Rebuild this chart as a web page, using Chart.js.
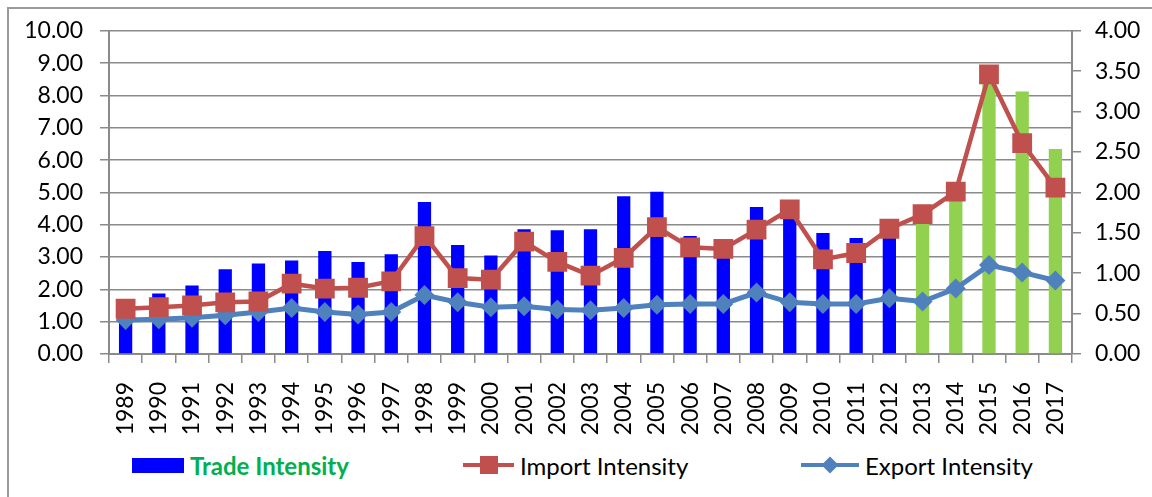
<!DOCTYPE html>
<html>
<head>
<meta charset="utf-8">
<script src="https://cdn.jsdelivr.net/npm/chart.js@4/dist/chart.umd.min.js"></script>
<style>
  body { margin: 0; background: #fff; font-family: Lato, sans-serif; }
  #wrap { position: relative; width: 1152px; height: 497px; overflow: hidden; }
  #frame { position: absolute; left: 7px; top: 7px; width: 1200px; height: 600px;
           border-left: 2px solid #9a9a9a; border-top: 2px solid #9a9a9a; }
  #chart { position: absolute; left: 0; top: 0; }
  .lg { position: absolute; top: 451px; height: 28px; display: flex; align-items: center;
        font-size: 24px; color: #000; white-space: nowrap; }
  .sw { position: relative; margin-right: 6px; }
</style>
</head>
<body>
<div id="wrap">
  <div id="frame"></div>
  <canvas id="chart" width="1152" height="440"></canvas>
  <div class="lg" style="left:132px">
    <span class="sw" style="width:52px;height:15px;background:#0000ff"></span>
    <span style="color:#00b050;font-weight:bold">Trade Intensity</span>
  </div>
  <div class="lg" style="left:463px">
    <span class="sw" style="width:51px;height:4px;background:#c0504d">
      <span style="position:absolute;left:17px;top:-7px;width:18px;height:18px;background:#c0504d"></span>
    </span>
    <span>Import Intensity</span>
  </div>
  <div class="lg" style="left:801px">
    <span class="sw" style="width:58px;height:4px;background:#4f81bd">
      <span style="position:absolute;left:23px;top:-4px;width:12px;height:12px;background:#4f81bd;transform:rotate(45deg)"></span>
    </span>
    <span>Export Intensity</span>
  </div>
</div>
<script>
// Données
const years = ['1989','1990','1991','1992','1993','1994','1995','1996','1997','1998',
  '1999','2000','2001','2002','2003','2004','2005','2006','2007','2008',
  '2009','2010','2011','2012','2013','2014','2015','2016','2017'];

// Trade intensity (axe gauche)
const tradeIntensity = [1.40, 1.87, 2.12, 2.62, 2.80, 2.89, 3.19, 2.85, 3.09, 4.70,
  3.37, 3.05, 3.86, 3.83, 3.86, 4.88, 5.02, 3.65, 3.30, 4.55,
  4.30, 3.74, 3.59, 3.75, 4.25, 4.90, 8.40, 8.12, 6.34];

// Import / Export intensity (axe droit)
const importIntensity = [0.56, 0.58, 0.60, 0.64, 0.65, 0.87, 0.81, 0.82, 0.90, 1.46,
  0.94, 0.92, 1.39, 1.14, 0.97, 1.19, 1.57, 1.32, 1.30, 1.54,
  1.79, 1.17, 1.25, 1.55, 1.73, 2.01, 3.46, 2.61, 2.06];
const exportIntensity = [0.42, 0.43, 0.45, 0.48, 0.52, 0.57, 0.52, 0.49, 0.52, 0.73,
  0.64, 0.58, 0.59, 0.55, 0.54, 0.57, 0.61, 0.62, 0.62, 0.76,
  0.64, 0.62, 0.62, 0.69, 0.65, 0.81, 1.10, 1.01, 0.91];

// Barres bleues jusqu'en 2012, vertes ensuite
const barColors = years.map(y => Number(y) >= 2013 ? '#92d050' : '#0000ff');

const axisFont = { family: 'Lato', size: 23 };
const gridGray = '#8a8a8a';

const ctx = document.getElementById('chart').getContext('2d');
new Chart(ctx, {
  type: 'bar',
  data: {
    labels: years,
    datasets: [
      {
        type: 'line', label: 'Import Intensity', data: importIntensity, yAxisID: 'y1',
        borderColor: '#c0504d', backgroundColor: '#c0504d', borderWidth: 4.5,
        pointStyle: 'rect', pointRadius: 14, pointBorderWidth: 0, order: 1, tension: 0
      },
      {
        type: 'line', label: 'Export Intensity', data: exportIntensity, yAxisID: 'y1',
        borderColor: '#4f81bd', backgroundColor: '#4f81bd', borderWidth: 5,
        pointStyle: 'rectRot', pointRadius: 10, pointBorderWidth: 0, order: 2, tension: 0
      },
      {
        label: 'Trade Intensity', data: tradeIntensity, yAxisID: 'y',
        backgroundColor: barColors, barPercentage: 0.4, categoryPercentage: 1.0, order: 3
      }
    ]
  },
  options: {
    responsive: false,
    animation: false,
    layout: { padding: { top: 29, left: 0, right: 0, bottom: 0 } },
    plugins: { legend: { display: false }, tooltip: { enabled: false } },
    scales: {
      x: {
        offset: true,
        grid: { offset: true, drawOnChartArea: false, drawTicks: true, tickLength: 9, color: gridGray, lineWidth: 1.5 },
        border: { color: gridGray, width: 2 },
        ticks: { color: '#000', font: axisFont, minRotation: 90, maxRotation: 90, padding: 19, autoSkip: false },
        afterFit: s => { s.height = 86; }
      },
      y: {
        position: 'left', min: 0, max: 10,
        grid: { color: gridGray, lineWidth: 1.5, tickLength: 9 },
        border: { color: gridGray, width: 2 },
        ticks: { stepSize: 1, color: '#000', font: axisFont, padding: 17, callback: v => v.toFixed(2) },
        afterFit: s => { s.width = 109; }
      },
      y1: {
        position: 'right', min: 0, max: 4,
        grid: { drawOnChartArea: false, color: gridGray, lineWidth: 1.5, tickLength: 9 },
        border: { color: gridGray, width: 2 },
        ticks: { stepSize: 0.5, color: '#000', font: axisFont, padding: 14, callback: v => v.toFixed(2) },
        afterFit: s => { s.width = 80; }
      }
    }
  }
});
</script>
</body>
</html>
